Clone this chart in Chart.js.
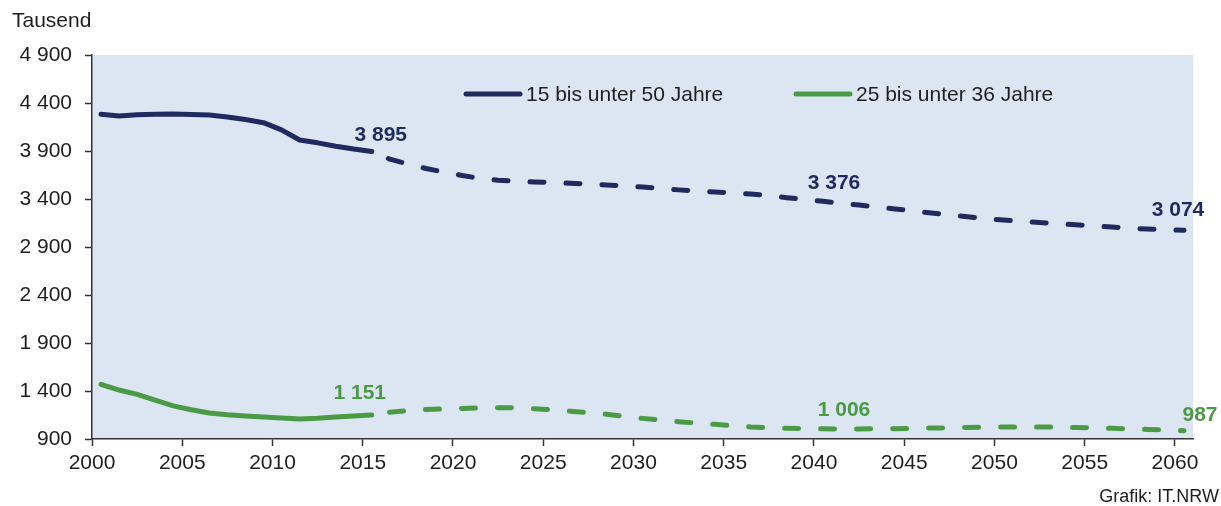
<!DOCTYPE html>
<html>
<head>
<meta charset="utf-8">
<script src="https://cdn.jsdelivr.net/npm/chart.js@4.4.1/dist/chart.umd.min.js"></script>
<style>
  body { margin: 0; background: #ffffff; }
  canvas { display: block; }
</style>
</head>
<body>
<canvas id="myChart" width="1221" height="506"></canvas>
<script>
// Bevölkerung NRW in Tausend, Ist 2000-2015, Vorausberechnung 2015-2060
var yearsPast = [2000, 2001, 2002, 2003, 2004, 2005, 2006, 2007, 2008, 2009, 2010, 2011, 2012, 2013, 2014, 2015];
var yearsProj = [2015, 2016, 2017, 2018, 2019, 2020, 2021, 2022, 2023, 2024, 2025, 2026, 2027, 2028, 2029, 2030,
  2031, 2032, 2033, 2034, 2035, 2036, 2037, 2038, 2039, 2040, 2041, 2042, 2043, 2044, 2045,
  2046, 2047, 2048, 2049, 2050, 2051, 2052, 2053, 2054, 2055, 2056, 2057, 2058, 2059, 2060];

var age15to50Past = [4282, 4265, 4278, 4283, 4285, 4280, 4274, 4255, 4228, 4195, 4120, 4015, 3985, 3950, 3920, 3895];
var age15to50Proj = [3895, 3815, 3765, 3718, 3680, 3645, 3615, 3595, 3585, 3578, 3572, 3564, 3555, 3547, 3537, 3525,
  3510, 3495, 3484, 3474, 3463, 3452, 3434, 3414, 3395, 3376, 3356, 3337, 3317, 3296, 3275,
  3254, 3234, 3215, 3197, 3181, 3168, 3155, 3143, 3132, 3120, 3108, 3097, 3087, 3080, 3074];

var age25to36Past = [1470, 1410, 1365, 1305, 1245, 1205, 1170, 1152, 1140, 1128, 1120, 1108, 1115, 1128, 1140, 1151];
var age25to36Proj = [1151, 1178, 1195, 1207, 1214, 1219, 1223, 1226, 1224, 1216, 1203, 1190, 1174, 1158, 1136, 1115,
  1097, 1080, 1066, 1053, 1039, 1026, 1018, 1012, 1008, 1006, 1005, 1005, 1006, 1008, 1011,
  1014, 1017, 1020, 1023, 1025, 1026, 1025, 1023, 1020, 1016, 1011, 1006, 1000, 993, 987];

var seriesNames = ['15 bis unter 50 Jahre', '25 bis unter 36 Jahre'];
var xTicks = [2000, 2005, 2010, 2015, 2020, 2025, 2030, 2035, 2040, 2045, 2050, 2055, 2060];
var yTicks = [900, 1400, 1900, 2400, 2900, 3400, 3900, 4400, 4900];

var blue = '#1f2a5e';
var green = '#4b9a45';
var textColor = '#1e1e1e';
var fontFamily = '"Liberation Sans", Arial, sans-serif';

function toPoints(years, values) {
	var pts = [];
	for (var i = 0; i < years.length; i++) {
		// Werte jeweils in der Jahresmitte
		pts.push({ x: years[i] + 0.5, y: values[i] });
	}
	return pts;
}

function fmt(v) {
	return String(v).replace(/\B(?=(\d{3})+(?!\d))/g, ' ');
}

// beschriftete Punkte: dataset, index, Versatz
var valueLabels = [
	{ ds: 0, idx: 15, dx: 9, dy: -16 },
	{ ds: 1, idx: 25, dx: 11, dy: -18 },
	{ ds: 1, idx: 45, dx: -6, dy: -20 },
	{ ds: 2, idx: 15, dx: -12, dy: -22 },
	{ ds: 3, idx: 25, dx: 21, dy: -19 },
	{ ds: 3, idx: 45, dx: 16, dy: -15 }
];

var extras = {
	id: 'extras',
	beforeDraw: function (chart) {
		var a = chart.chartArea;
		var ctx = chart.ctx;
		ctx.save();
		ctx.fillStyle = '#dce6f2';
		ctx.fillRect(a.left, a.top, a.right - a.left, a.bottom - a.top);
		ctx.restore();
	},
	afterDraw: function (chart) {
		var ctx = chart.ctx;
		var xs = chart.scales.x;
		var ys = chart.scales.y;
		ctx.save();

		// Wertebeschriftungen
		ctx.font = 'bold 21px ' + fontFamily;
		ctx.textAlign = 'center';
		ctx.textBaseline = 'middle';
		valueLabels.forEach(function (l) {
			var ds = chart.data.datasets[l.ds];
			var p = ds.data[l.idx];
			ctx.fillStyle = ds.borderColor;
			ctx.fillText(fmt(p.y), xs.getPixelForValue(p.x) + l.dx, ys.getPixelForValue(p.y) + l.dy);
		});

		// Legende im Diagramm
		var leg = [
			{ x: 466, color: blue, text: seriesNames[0] },
			{ x: 796, color: green, text: seriesNames[1] }
		];
		ctx.font = '21px ' + fontFamily;
		ctx.textAlign = 'left';
		leg.forEach(function (e) {
			ctx.strokeStyle = e.color;
			ctx.lineWidth = 5;
			ctx.lineCap = 'round';
			ctx.beginPath();
			ctx.moveTo(e.x, 94);
			ctx.lineTo(e.x + 54, 94);
			ctx.stroke();
			ctx.fillStyle = textColor;
			ctx.fillText(e.text, e.x + 60, 95);
		});

		ctx.fillText('Tausend', 12, 21);
		ctx.font = '18px ' + fontFamily;
		ctx.textAlign = 'right';
		ctx.fillText('Grafik: IT.NRW', 1219, 497);
		ctx.restore();
	}
};

function lineSet(label, points, color, dashed) {
	return {
		label: label,
		data: points,
		borderColor: color,
		borderWidth: 5,
		borderCapStyle: 'round',
		borderJoinStyle: 'round',
		borderDash: dashed ? [14, 22] : [],
		borderDashOffset: dashed ? 18 : 0,
		pointRadius: 0,
		tension: 0,
		fill: false
	};
}

const ctx = document.getElementById('myChart');

new Chart(ctx, {
	type: 'line',
	data: {
		datasets: [
			lineSet(seriesNames[0], toPoints(yearsPast, age15to50Past), blue, false),
			lineSet(seriesNames[0], toPoints(yearsProj, age15to50Proj), blue, true),
			lineSet(seriesNames[1], toPoints(yearsPast, age25to36Past), green, false),
			lineSet(seriesNames[1], toPoints(yearsProj, age25to36Proj), green, true)
		]
	},
	plugins: [extras],
	options: {
		responsive: false,
		devicePixelRatio: 1,
		animation: false,
		layout: { padding: { left: 0, right: 28, top: 55, bottom: 0 } },
		plugins: {
			legend: { display: false },
			tooltip: { enabled: false },
			title: { display: false }
		},
		scales: {
			x: {
				type: 'linear',
				min: 2000,
				max: 2061,
				afterFit: function (s) { s.height = 67; },
				afterBuildTicks: function (s) {
					s.ticks = xTicks.map(function (v) { return { value: v }; });
				},
				ticks: {
					padding: 5,
					color: textColor,
					font: { family: fontFamily, size: 21 },
					maxRotation: 0,
					autoSkip: false,
					callback: function (v) { return String(v); }
				},
				grid: {
					drawOnChartArea: false,
					tickLength: 7,
					tickColor: '#333333',
					tickWidth: 1.5
				},
				border: { display: true, color: '#333333', width: 1.5 }
			},
			y: {
				min: 900,
				max: 4900,
				afterFit: function (s) { s.width = 92; },
				afterBuildTicks: function (s) {
					s.ticks = yTicks.map(function (v) { return { value: v }; });
				},
				ticks: {
					padding: 13,
					color: textColor,
					font: { family: fontFamily, size: 21 },
					callback: function (v) { return fmt(v); }
				},
				grid: {
					drawOnChartArea: false,
					tickLength: 7,
					tickColor: '#333333',
					tickWidth: 1.5
				},
				border: { display: true, color: '#333333', width: 1.5 }
			}
		}
	}
});
</script>
</body>
</html>
